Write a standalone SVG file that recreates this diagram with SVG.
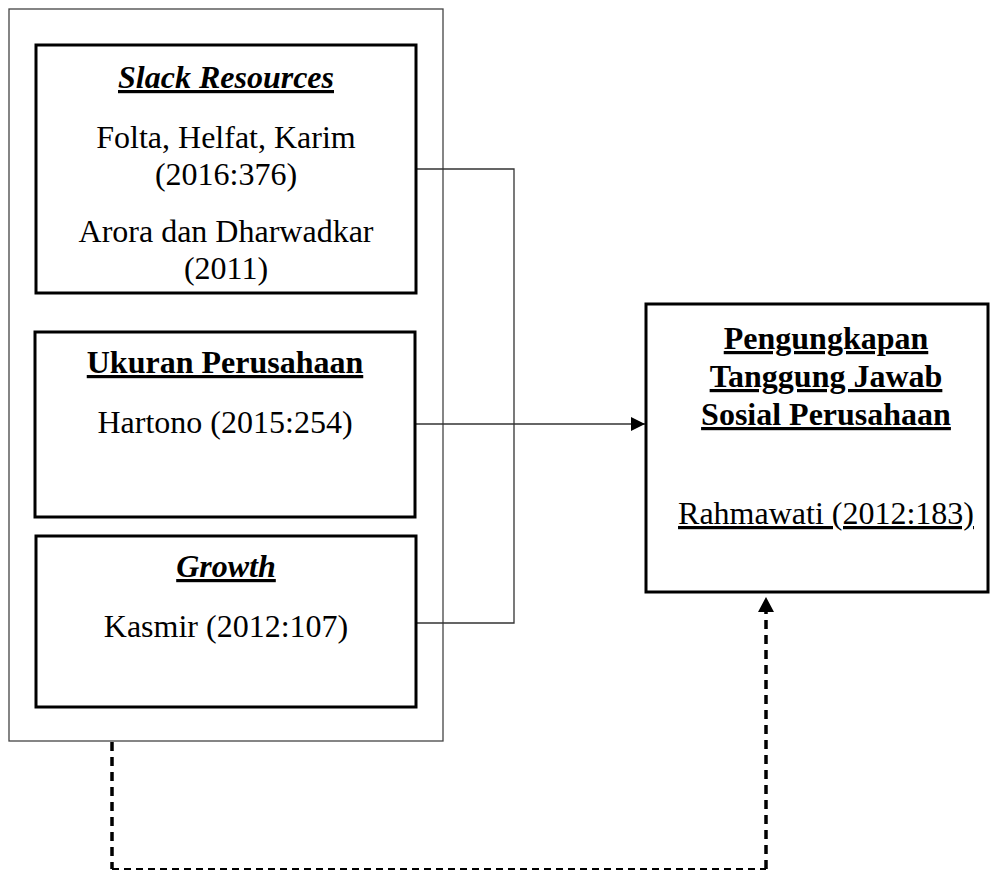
<svg xmlns="http://www.w3.org/2000/svg" width="1000" height="872" viewBox="0 0 1000 872">
<style>
.t{font-family:"Liberation Serif","Times New Roman",serif;font-size:32px;fill:#000;text-anchor:middle}
.b{font-weight:bold}
.i{font-style:italic}
.u{text-decoration:underline}
.box{fill:none;stroke:#000;stroke-width:3}
.outer{fill:none;stroke:#444;stroke-width:1.3}
.ln{fill:none;stroke:#333;stroke-width:1.3}
.dv{fill:none;stroke:#000;stroke-width:3.5;stroke-dasharray:9 6}
.dh{fill:none;stroke:#000;stroke-width:2.2;stroke-dasharray:7 5}
</style>
<defs>
<marker id="ah" viewBox="0 0 14 14" refX="14" refY="7" markerWidth="14" markerHeight="14" markerUnits="userSpaceOnUse" orient="auto">
<path d="M0,0 L14,7 L0,14 Z" fill="#000"/>
</marker>
</defs>
<rect width="1000" height="872" fill="#fff"/>
<g id="group-outer">
<rect class="outer" x="9" y="9" width="434" height="732"/>
</g>
<g id="connectors">
<path class="ln" d="M416,169 H514 V623 H416"/>
<path class="ln" d="M416,424 H645" marker-end="url(#ah)"/>
<path class="dv" d="M112,742 V869"/>
<path class="dh" d="M112,869 H766"/>
<path class="dv" d="M766,869 V611"/>
<path d="M758,612 L766,597 L774,612 Z" fill="#000"/>
</g>
<g id="node-slack">
<rect class="box" x="36" y="45" width="380" height="248"/>
<text class="t b i u" x="226" y="88">Slack Resources</text>
<text class="t" x="226" y="148">Folta, Helfat, Karim</text>
<text class="t" x="226" y="185">(2016:376)</text>
<text class="t" x="226" y="242">Arora dan Dharwadkar</text>
<text class="t" x="226" y="279">(2011)</text>
</g>
<g id="node-ukuran">
<rect class="box" x="35" y="332" width="380" height="185"/>
<text class="t b u" x="225" y="373">Ukuran Perusahaan</text>
<text class="t" x="225" y="433">Hartono (2015:254)</text>
</g>
<g id="node-growth">
<rect class="box" x="36" y="536" width="380" height="171"/>
<text class="t b i u" x="226" y="577">Growth</text>
<text class="t" x="226" y="637">Kasmir (2012:107)</text>
</g>
<g id="node-csr">
<rect class="box" x="646" y="304" width="342" height="288"/>
<text class="t b u" x="826" y="349">Pengungkapan</text>
<text class="t b u" x="826" y="387">Tanggung Jawab</text>
<text class="t b u" x="826" y="425">Sosial Perusahaan</text>
<text class="t u" x="826" y="524">Rahmawati (2012:183)</text>
</g>
</svg>
